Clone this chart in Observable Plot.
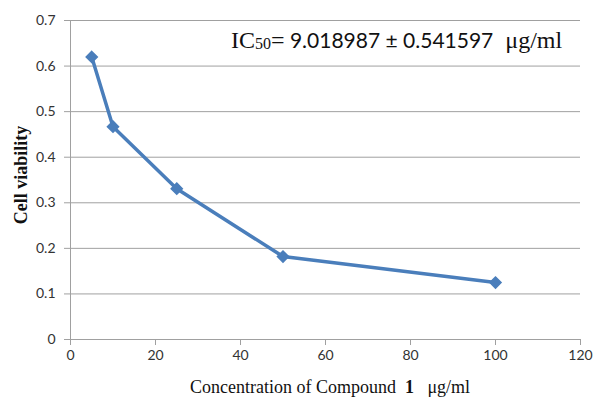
<!DOCTYPE html>
<html>
<head>
<meta charset="utf-8">
<script src="https://cdn.jsdelivr.net/npm/d3@7"></script>
<script src="https://cdn.jsdelivr.net/npm/@observablehq/plot@0.6"></script>
<style>
  html, body { margin: 0; padding: 0; background: #fff; }
  #wrap { position: relative; width: 598px; height: 401px; }
  #note { position: absolute; left: 231px; top: 27px; white-space: nowrap; color: #111; }
  #note .serif { font-family: "Liberation Serif", "Times New Roman", serif; font-size: 24px; }
  #note .sub { font-family: "Liberation Serif", serif; font-size: 16px; position: relative; top: 1px; }
  #note .sans { font-family: Lato, sans-serif; font-size: 21px; }
</style>
</head>
<body>
<div id="wrap"></div>
<script>
const concentrations = [5, 10, 25, 50, 100];
const viability = [0.62, 0.467, 0.331, 0.182, 0.125];
const xTicks = [0, 20, 40, 60, 80, 100, 120];
const yTicks = [0, 0.1, 0.2, 0.3, 0.4, 0.5, 0.6, 0.7];
const xLabel = "Concentration of Compound";
const xLabelNum = "1";
const xLabelUnit = "μg/ml";
const yLabel = "Cell viability";

const data = concentrations.map((c, i) => ({x: c, y: viability[i]}));
const blue = "#4a7ebb";
const gridColor = "#a0a0a0";
const tickFont = "Lato, sans-serif";

const chart = Plot.plot({
  width: 598,
  height: 401,
  marginLeft: 70,
  marginRight: 18,
  marginTop: 20,
  marginBottom: 62,
  style: {background: "#fff", fontFamily: tickFont},
  x: {domain: [0, 120]},
  y: {domain: [0, 0.7]},
  marks: [
    Plot.ruleY(yTicks, {stroke: gridColor, strokeWidth: 1}),
    Plot.ruleX([0], {stroke: gridColor, strokeWidth: 1}),
    Plot.axisY({ticks: yTicks, tickSize: 6, tickPadding: 9, stroke: gridColor, fill: "#333", fontSize: 14, label: null, tickFormat: d3.format("")}),
    Plot.axisX({ticks: xTicks, tickSize: 6, tickPadding: 5, stroke: gridColor, fill: "#333", fontSize: 14, label: null}),
    Plot.line(data, {x: "x", y: "y", stroke: blue, strokeWidth: 3.5}),
    Plot.dot(data, {x: "x", y: "y", symbol: "diamond2", fill: blue, stroke: blue, r: 5})
  ]
});

const svg = d3.select(chart);
// y axis title
svg.append("text")
  .attr("transform", "translate(27,175) rotate(-90)")
  .attr("text-anchor", "middle")
  .attr("font-family", "'Liberation Serif', serif")
  .attr("font-weight", "bold")
  .attr("font-size", 18)
  .attr("fill", "#111")
  .text(yLabel);
// x axis title
const xt = svg.append("text")
  .attr("x", 330)
  .attr("y", 393)
  .attr("text-anchor", "middle")
  .attr("font-family", "'Liberation Serif', serif")
  .attr("font-size", 18)
  .attr("fill", "#111")
  .attr("xml:space", "preserve");
xt.append("tspan").text(xLabel + "  ");
xt.append("tspan").attr("font-weight", "bold").text(xLabelNum);
xt.append("tspan").text("   " + xLabelUnit);

const wrap = document.getElementById("wrap");
wrap.appendChild(chart);
const note = document.createElement("div");
note.id = "note";
note.innerHTML = '<span class="serif">IC</span><span class="sub">50</span><span class="serif">=</span><span class="sans"> 9.018987 ± 0.541597</span><span class="serif">&nbsp;&nbsp;μg/ml</span>';
wrap.appendChild(note);
</script>
</body>
</html>
